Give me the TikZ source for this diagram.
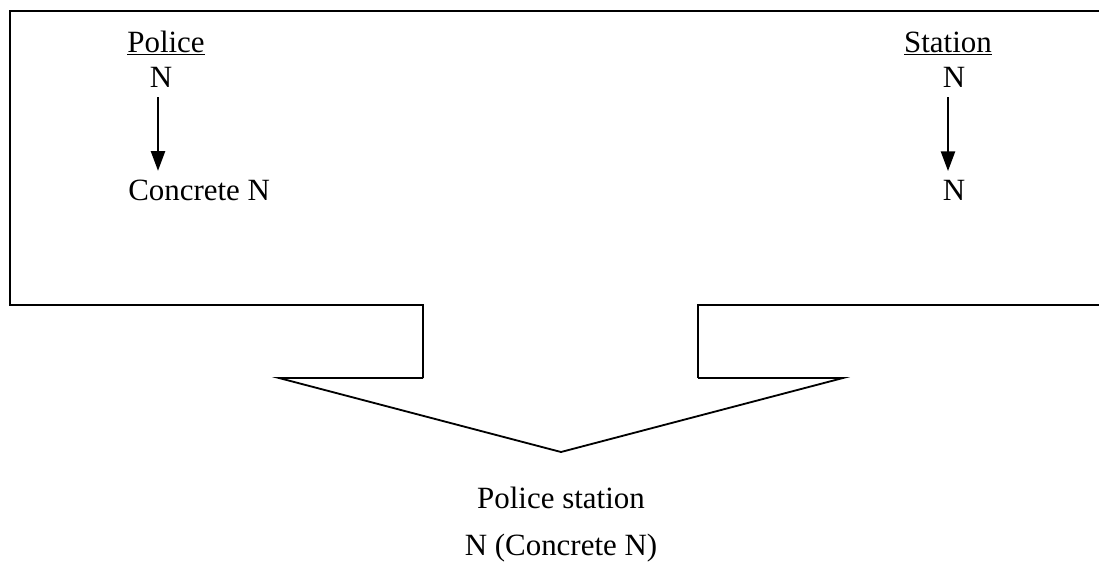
\documentclass[tikz,border=0pt]{standalone}
\usepackage{fontspec}
\setmainfont{Liberation Serif}
\usetikzlibrary{arrows.meta}

\tikzset{
  mot/.style={inner sep=0pt, font=\fontsize{22}{26}\selectfont},
  fleche/.style={line width=1.5pt, -{Triangle[length=14pt, width=10pt]},
    shorten <=7pt, shorten >=6pt},
  cadre/.style={line width=1.8pt}
}

\begin{document}
\begin{tikzpicture}[x=0.025cm, y=-0.025cm]
  \useasboundingbox (0,0) rectangle (1099,574);

      % COORDONNEES CADRE
      \coordinate (A) at (1110,11);
      \coordinate (B) at (10,11);
      \coordinate (C) at (10,305);
      \coordinate (D) at (423,305);
      \coordinate (E) at (423,378);
      \coordinate (F) at (279,378);
      \coordinate (G) at (561,452);
      \coordinate (H) at (843,378);
      \coordinate (I) at (698,378);
      \coordinate (J) at (698,305);
      \coordinate (K) at (1110,305);

      % CADRE ET FLECHE
      \draw[cadre] (A)--(B)--(C)--(D)--(E);
      \draw[line width=1.3pt] (E)--(F)--(G)--(H)--(I);
      \draw[cadre] (I)--(J)--(K);

      % MOT GAUCHE
      \node[mot, anchor=base] (pol) at (166,52) {\underline{Police}};
      \node[mot, anchor=base] (polN) at (161,87) {N};
      \node[mot, anchor=base west] (conc) at (128,200) {Concrete N};
      \draw[fleche] (polN.south) ++(-3,0) coordinate (p1) -- (p1 |- conc.north);

      % MOT DROIT
      \node[mot, anchor=base] (sta) at (948,52) {\underline{Station}};
      \node[mot, anchor=base] (staN) at (954,87) {N};
      \node[mot, anchor=base] (staN2) at (954,200) {N};
      \draw[fleche] (staN.south) ++(-6,0) coordinate (s1) -- (s1 |- staN2.north);

      % COMPOSE
      \node[mot, anchor=base] (comp) at (561,508) {Police station};
      \node[mot, anchor=base] (compN) at (561,555) {N (Concrete N)};
\end{tikzpicture}
\end{document}
